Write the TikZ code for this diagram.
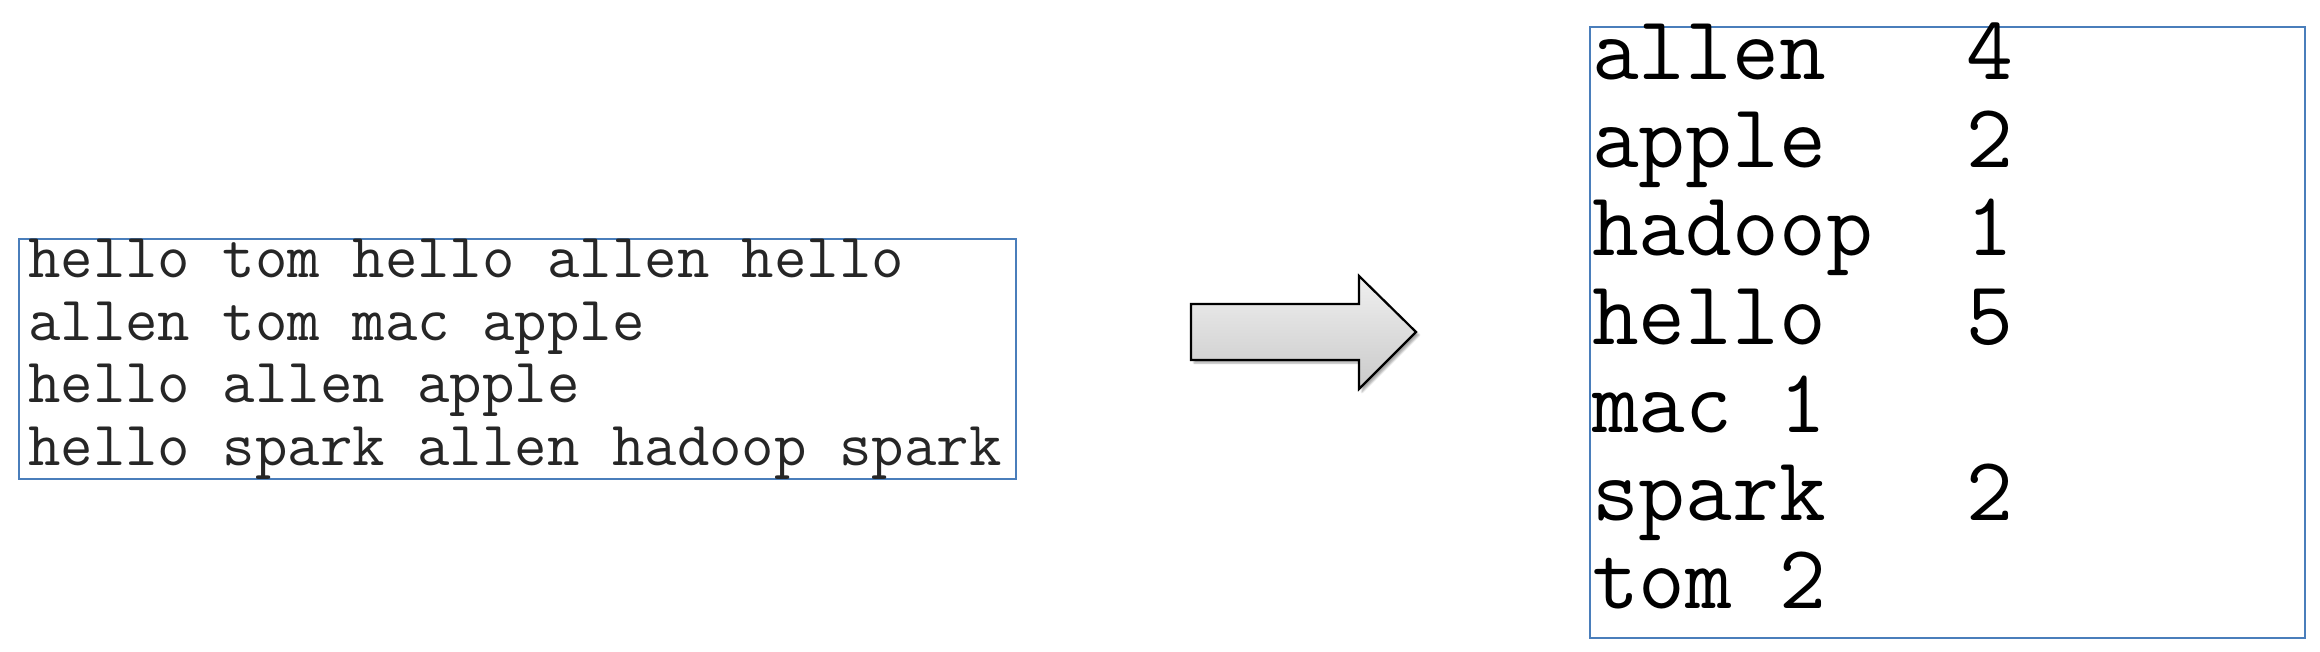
\documentclass[tikz,border=0pt]{standalone}
\usepackage{fontspec}
\usetikzlibrary{shadows.blur}
\definecolor{boxblue}{RGB}{74,126,187}
\tikzset{
  txtbox/.style={draw=boxblue, line width=2.5pt},
  lline/.style={anchor=base west, inner sep=0pt, text=black!85, font=\ttfamily\fontsize{63}{63}\selectfont},
  rline/.style={anchor=base west, inner sep=0pt, text=black, font=\ttfamily\fontsize{90.8}{88}\selectfont},
  blockarrow/.style={draw=black, line width=2.2pt, line join=miter, top color=gray!12, bottom color=gray!42,
    blur shadow={shadow xshift=3pt, shadow yshift=-3pt, shadow blur steps=6, shadow opacity=35}}
}
\begin{document}
\begin{tikzpicture}[x=1pt, y=-1pt]
\useasboundingbox (0,0) rectangle (2320,652);
% left box
\draw[txtbox] (19,239) rectangle (1016,479);
\node[lline] (l1) at (28,277) {hello tom hello allen hello};
\node[lline] (l2) at (28,340) {allen tom mac apple};
\node[lline] (l3) at (28,402) {hello allen apple};
\node[lline] (l4) at (28,465) {hello spark allen hadoop spark};
% block arrow
\path[blockarrow] (1191,304) -- (1359,304) -- (1359,276) -- (1416,332) -- (1359,389) -- (1359,360) -- (1191,360) -- cycle;
% right box
\draw[txtbox] (1590,27) rectangle (2305,638);
\node[rline] (r1) at (1592,80) {allen~~~4};
\node[rline] (r2) at (1592,168) {apple~~~2};
\node[rline] (r3) at (1592,256) {hadoop~~1};
\node[rline] (r4) at (1592,344) {hello~~~5};
\node[rline] (r5) at (1592,432) {mac~1};
\node[rline] (r6) at (1592,520) {spark~~~2};
\node[rline] (r7) at (1592,608) {tom~2};
\end{tikzpicture}
\end{document}
